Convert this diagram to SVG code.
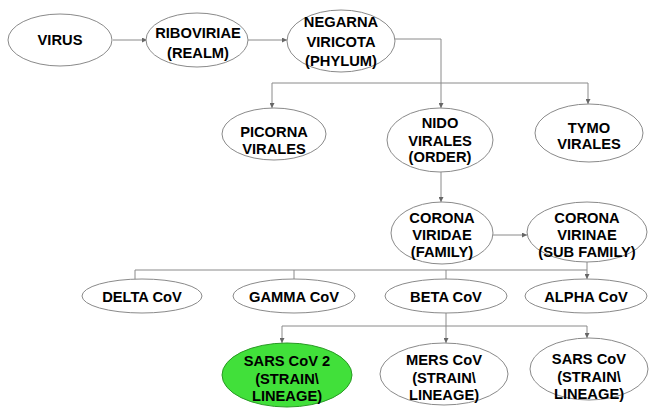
<svg xmlns="http://www.w3.org/2000/svg" width="650" height="409" viewBox="0 0 650 409">
<defs>
<marker id="ah" viewBox="0 0 6 6" refX="6" refY="3" markerWidth="5" markerHeight="5" orient="auto" markerUnits="userSpaceOnUse">
<path d="M0,0 L6,3 L0,6 z" fill="#666"/>
</marker>
<style>
.n ellipse{fill:#fff;stroke:#8a8a8a;stroke-width:1}
.n text{font-family:"Liberation Sans",Arial,sans-serif;font-weight:bold;font-size:14.7px;fill:#000;text-anchor:middle}
.c path{fill:none;stroke:#8a8a8a;stroke-width:1}
.c .a{marker-end:url(#ah)}
</style>
</defs>
<rect width="650" height="409" fill="#fff"/>
<g class="c">
<path class="a" d="M113,40 H147"/>
<path class="a" d="M248,40 H287"/>
<path class="a" d="M394,39 H441 V108"/>
<path d="M272,83 H588"/>
<path class="a" d="M272,83 V108"/>
<path class="a" d="M588,83 V104"/>
<path class="a" d="M441,172 V202"/>
<path class="a" d="M493,235 H527"/>
<path class="a" d="M587,262 V279"/>
<path d="M135,270 H587"/>
<path d="M135,270 V280"/>
<path d="M294,270 V279"/>
<path d="M446,270 V279"/>
<path class="a" d="M446,313 V343"/>
<path d="M282,326 H587"/>
<path class="a" d="M282,326 V343"/>
<path class="a" d="M587,326 V338"/>
</g>
<g class="n" id="virus"><ellipse cx="60" cy="40" rx="52" ry="26"/><text x="60" y="45">VIRUS</text></g>
<g class="n" id="riboviriae"><ellipse cx="197" cy="40" rx="51" ry="27"/><text x="198" y="38">RIBOVIRIAE</text><text x="198" y="58">(REALM)</text></g>
<g class="n" id="negarna"><ellipse cx="341" cy="41" rx="54" ry="31"/><text x="341" y="27">NEGARNA</text><text x="341" y="47">VIRICOTA</text><text x="341" y="66">(PHYLUM)</text></g>
<g class="n" id="picorna"><ellipse cx="274" cy="134" rx="52" ry="26"/><text x="274" y="137">PICORNA</text><text x="274" y="154">VIRALES</text></g>
<g class="n" id="nido"><ellipse cx="440" cy="140" rx="53" ry="32"/><text x="440" y="128">NIDO</text><text x="440" y="146">VIRALES</text><text x="440" y="162">(ORDER)</text></g>
<g class="n" id="tymo"><ellipse cx="589" cy="133" rx="54" ry="29"/><text x="589" y="133">TYMO</text><text x="589" y="149">VIRALES</text></g>
<g class="n" id="coronaviridae"><ellipse cx="442" cy="233" rx="51" ry="31"/><text x="442" y="223">CORONA</text><text x="442" y="240">VIRIDAE</text><text x="442" y="257">(FAMILY)</text></g>
<g class="n" id="coronavirinae"><ellipse cx="587" cy="232" rx="60" ry="30"/><text x="587" y="223">CORONA</text><text x="587" y="240">VIRINAE</text><text x="587" y="257">(SUB FAMILY)</text></g>
<g class="n" id="delta"><ellipse cx="142" cy="296" rx="60" ry="17"/><text x="142" y="302">DELTA CoV</text></g>
<g class="n" id="gamma"><ellipse cx="294" cy="296" rx="61" ry="17"/><text x="294" y="302">GAMMA CoV</text></g>
<g class="n" id="beta"><ellipse cx="446" cy="296" rx="61" ry="17"/><text x="446" y="302">BETA CoV</text></g>
<g class="n" id="alpha"><ellipse cx="586" cy="296" rx="61" ry="17"/><text x="586" y="302">ALPHA CoV</text></g>
<g class="n" id="sarscov2"><ellipse cx="287" cy="375" rx="65" ry="32" style="fill:#41e03a;stroke:#2a9a25"/><text x="287" y="366">SARS CoV 2</text><text x="287" y="384">(STRAIN\</text><text x="287" y="401">LINEAGE)</text></g>
<g class="n" id="merscov"><ellipse cx="444" cy="374" rx="64" ry="31"/><text x="444" y="365">MERS CoV</text><text x="444" y="383">(STRAIN\</text><text x="444" y="400">LINEAGE)</text></g>
<g class="n" id="sarscov"><ellipse cx="589" cy="369" rx="59" ry="31"/><text x="589" y="364">SARS CoV</text><text x="589" y="382">(STRAIN\</text><text x="589" y="399">LINEAGE)</text></g>
</svg>
